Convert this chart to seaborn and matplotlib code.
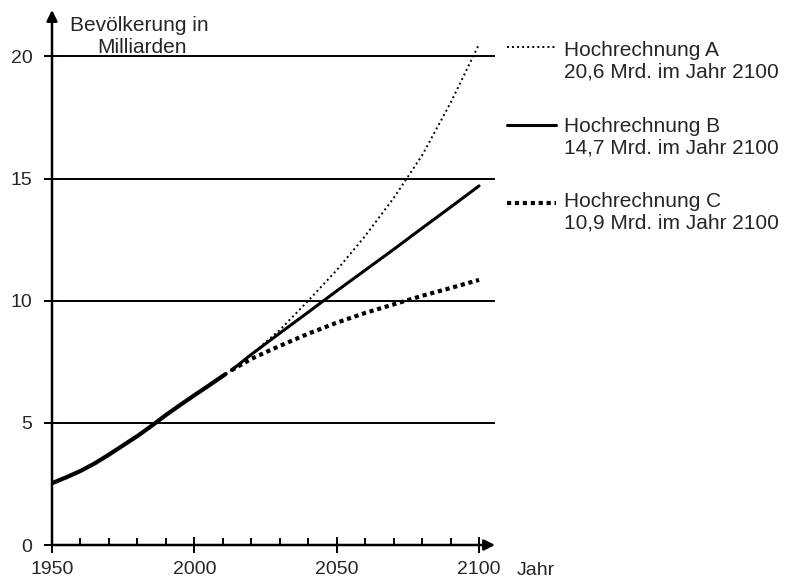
import matplotlib
matplotlib.use("Agg")
import matplotlib.pyplot as plt
import seaborn as sns
import pandas as pd
from matplotlib.lines import Line2D

sns.set_theme(style="white")
plt.rcParams['font.family'] = ['Liberation Sans', 'DejaVu Sans']

# historical data
hist_years = [1950, 1955, 1960, 1965, 1970, 1975, 1980, 1985, 1990, 1995, 2000, 2005, 2011]
hist_vals = [2.53, 2.77, 3.03, 3.34, 3.70, 4.08, 4.46, 4.88, 5.32, 5.73, 6.13, 6.52, 7.0]

proj_years = [2013, 2020, 2030, 2040, 2050, 2060, 2070, 2080, 2090, 2100]
proj_A = [7.15, 7.8, 8.8, 10.0, 11.25, 12.65, 14.2, 15.95, 18.1, 20.5]
proj_B = [7.15, 7.8, 8.67, 9.53, 10.4, 11.25, 12.1, 12.97, 13.83, 14.7]
proj_C = [7.15, 7.62, 8.15, 8.65, 9.1, 9.5, 9.85, 10.2, 10.52, 10.85]

legend_titles = ["Hochrechnung A", "Hochrechnung B", "Hochrechnung C"]
legend_sub = ["20,6 Mrd. im Jahr 2100", "14,7 Mrd. im Jahr 2100", "10,9 Mrd. im Jahr 2100"]

y_ticks = [0, 5, 10, 15, 20]
x_ticks = [1950, 2000, 2050, 2100]

fig = plt.figure(figsize=(7.96, 5.79), dpi=100)
W, H = 796, 579
ax = fig.add_axes([52 / W, 1 - 545 / H, (495 - 52) / W, (545 - 10) / H])
ax.set_xlim(1950, 2105.6)
ax.set_ylim(0, 21.9)

for t in y_ticks[1:]:
    ax.axhline(t, color="black", lw=1.4, zorder=1)

df_h = pd.DataFrame({"Jahr": hist_years, "Wert": hist_vals})
sns.lineplot(data=df_h, x="Jahr", y="Wert", ax=ax, color="black", lw=3.0, zorder=3)
styles = [dict(lw=1.4, ls=(0, (1, 1.6))), dict(lw=2.2, ls="-"), dict(lw=3.0, ls=(0, (1, 0.9)))]
for vals, st in zip([proj_A, proj_B, proj_C], styles):
    d = pd.DataFrame({"Jahr": proj_years, "Wert": vals})
    sns.lineplot(data=d, x="Jahr", y="Wert", ax=ax, color="black", zorder=3, **st)

for s in ["top", "right", "left", "bottom"]:
    ax.spines[s].set_visible(False)

# axes with arrows
ax.annotate("", xy=(1, 0), xytext=(0, 0), xycoords="axes fraction",
            arrowprops=dict(arrowstyle="-|>", color="black", lw=1.8,
                            mutation_scale=16, shrinkA=0, shrinkB=0), zorder=5)
ax.annotate("", xy=(0, 1), xytext=(0, 0), xycoords="axes fraction",
            arrowprops=dict(arrowstyle="-|>", color="black", lw=1.8,
                            mutation_scale=16, shrinkA=0, shrinkB=0), zorder=5)

ax.set_xticks(x_ticks)
ax.set_xticks(list(range(1960, 2100, 10)), minor=True)
ax.set_yticks(y_ticks)
ax.set_yticklabels([str(t) for t in y_ticks])
ax.set_xticklabels([str(t) for t in x_ticks])
ax.tick_params(axis="x", which="major", direction="inout", length=11, width=1.4,
               color="black", labelsize=14, pad=6)
ax.tick_params(axis="x", which="minor", direction="in", length=5, width=1.4, color="black")
ax.tick_params(axis="y", which="major", direction="inout", length=12, width=1.4,
               color="black", labelsize=14, pad=8)
ax.tick_params(bottom=True, left=True, which="both")
ax.set_xlabel("")
ax.set_ylabel("")

fig.text(70 / W, 1 - 31 / H, "Bevölkerung in", fontsize=15, va="baseline", ha="left")
fig.text(97 / W, 1 - 53 / H, "Milliarden", fontsize=15, va="baseline", ha="left")
fig.text(517 / W, 1 - 575 / H, "Jahr", fontsize=14, va="baseline", ha="left")

leg_line_y = [47, 125, 203]
leg_base_y = [56, 132, 207]
for ly, by, st, t1, t2 in zip(leg_line_y, leg_base_y, styles, legend_titles, legend_sub):
    fig.add_artist(Line2D([507 / W, 556 / W], [1 - ly / H, 1 - ly / H],
                          color="black", transform=fig.transFigure, **st))
    fig.text(564 / W, 1 - by / H, t1, fontsize=15, va="baseline", ha="left")
    fig.text(564 / W, 1 - (by + 22) / H, t2, fontsize=15, va="baseline", ha="left")

fig.savefig("out.png", dpi=100, facecolor="white")
